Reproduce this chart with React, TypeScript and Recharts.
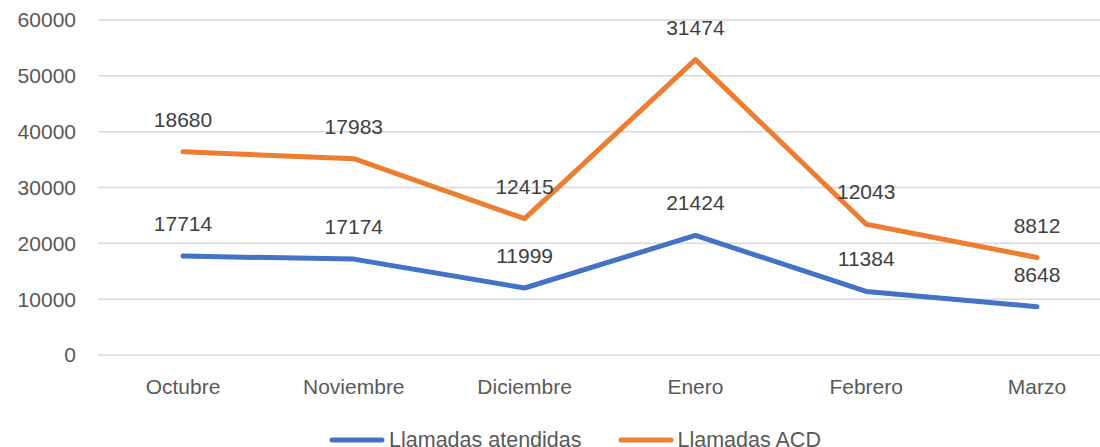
import { LineChart, Line, XAxis, YAxis, CartesianGrid, Legend, LabelList } from 'recharts';

const months = ['Octubre', 'Noviembre', 'Diciembre', 'Enero', 'Febrero', 'Marzo'];
const atendidas = [17714, 17174, 11999, 21424, 11384, 8648];
const acd = [18680, 17983, 12415, 31474, 12043, 8812];
const yTicks = [0, 10000, 20000, 30000, 40000, 50000, 60000];
const seriesOrder = ['Llamadas atendidas', 'Llamadas ACD'];

const BLUE = '#4472C4';
const ORANGE = '#ED7D31';
const FONT = '"Liberation Sans", Arial, sans-serif';

// ACD line is stacked on top of the atendidas line
const data = months.map((m, i) => ({
  month: m,
  atendidas: atendidas[i],
  acd: acd[i],
  acdStacked: atendidas[i] + acd[i],
}));

function LegendContent({ payload }: any) {
  const items = [...(payload || [])].sort(
    (a: any, b: any) => seriesOrder.indexOf(a.value) - seriesOrder.indexOf(b.value)
  );
  return (
    <div style={{ display: 'flex', justifyContent: 'center', gap: 36, paddingLeft: 28, lineHeight: '24px', fontFamily: FONT, fontSize: 21.5, color: '#595959' }}>
      {items.map((p: any) => (
        <div key={p.value} style={{ display: 'flex', alignItems: 'center' }}>
          <svg width={56} height={10} style={{ marginRight: 4 }}>
            <line x1={3} y1={5} x2={53} y2={5} stroke={p.color} strokeWidth={5} strokeLinecap="round" />
          </svg>
          <span>{p.value}</span>
        </div>
      ))}
    </div>
  );
}

export default function App() {
  return (
    <div style={{ position: 'absolute', left: 0, top: 0, width: 1100, height: 447, overflow: 'hidden', background: '#fff' }}>
      <LineChart width={1124} height={452} data={data} margin={{ top: 20, right: 2, left: 0, bottom: 0 }}>
        <CartesianGrid vertical={false} stroke="#d9d9d9" strokeWidth={1.5} />
        <XAxis
          dataKey="month"
          height={73}
          padding={{ left: 85, right: 85 }}
          axisLine={false}
          tickLine={false}
          tickSize={0}
          tickMargin={24}
          tick={{ fill: '#595959', fontSize: 21, fontFamily: FONT }}
        />
        <YAxis
          width={98}
          domain={[0, 60000]}
          ticks={yTicks}
          axisLine={false}
          tickLine={false}
          tickSize={0}
          tickMargin={22}
          tick={{ fill: '#595959', fontSize: 21, fontFamily: FONT }}
        />
        <Legend verticalAlign="bottom" content={<LegendContent />} />
        <Line
          dataKey="atendidas"
          name="Llamadas atendidas"
          stroke={BLUE}
          strokeWidth={5}
          strokeLinecap="round"
          strokeLinejoin="round"
          dot={false}
          isAnimationActive={false}
        >
          <LabelList dataKey="atendidas" position="top" offset={25} fill="#404040" fontSize={21} fontFamily={FONT} />
        </Line>
        <Line
          dataKey="acdStacked"
          name="Llamadas ACD"
          stroke={ORANGE}
          strokeWidth={5}
          strokeLinecap="round"
          strokeLinejoin="round"
          dot={false}
          isAnimationActive={false}
        >
          <LabelList dataKey="acd" position="top" offset={25} fill="#404040" fontSize={21} fontFamily={FONT} />
        </Line>
      </LineChart>
    </div>
  );
}
